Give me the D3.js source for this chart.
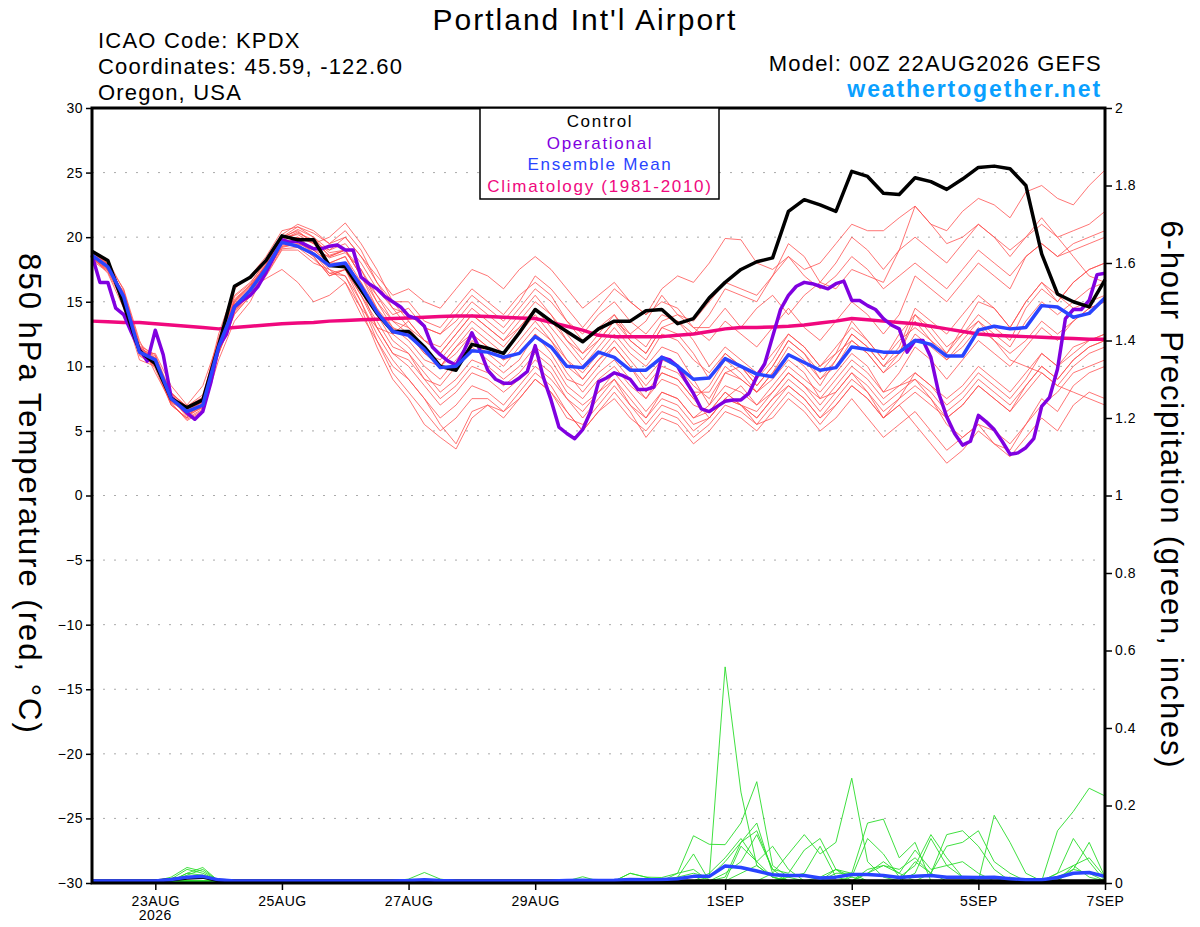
<!DOCTYPE html>
<html>
<head>
<meta charset="utf-8">
<script src="https://cdn.jsdelivr.net/npm/d3@7"></script>
<style>
  body { margin: 0; background: #fff; }
  svg { display: block; font-family: "Liberation Sans", Arial, Helvetica, sans-serif; }
</style>
</head>
<body>
<div id="chart"></div>
<script>
// 6-hourly steps from 00Z 22AUG2026 (65 points), operational is 3-hourly (129 points)
var control = [18.9,18.2,14.8,11.2,10.2,7.5,6.8,7.4,11.6,16.2,16.9,18.2,20.1,
  19.8,19.8,17.8,17.7,15.9,14.1,12.7,12.7,11.5,10.0,9.7,11.7,11.4,
  11.0,12.6,14.4,13.5,12.7,11.9,12.9,13.5,13.5,14.3,14.4,13.3,13.7,
  15.3,16.5,17.5,18.1,18.4,22.0,22.9,22.5,22.0,25.1,24.7,23.4,23.3,
  24.6,24.3,23.7,24.5,25.4,25.5,25.3,24.0,18.7,15.6,15.0,14.6,16.7];

var operational = [18.6,16.5,16.5,14.5,14.0,12.6,11.3,10.4,12.8,10.9,7.6,7.0,6.4,5.9,6.5,8.7,
  11.5,12.5,14.6,15.1,15.5,16.2,17.3,18.5,19.8,19.6,19.7,19.4,19.1,19.1,19.3,19.4,
  19.0,19.0,16.9,16.4,16.0,15.4,15.0,14.6,13.9,13.7,13.1,11.5,10.9,10.4,10.1,11.2,
  12.6,11.3,9.7,9.0,8.7,8.7,9.1,9.6,11.6,9.2,7.4,5.3,4.8,4.4,5.1,6.5,
  8.8,9.1,9.5,9.3,9.0,8.2,8.2,8.4,10.7,10.5,10.0,8.9,7.9,6.7,6.5,6.9,
  7.3,7.4,7.4,7.9,9.2,10.2,12.3,14.4,15.5,16.2,16.5,16.4,16.2,16.0,16.4,16.6,
  15.1,15.1,14.7,14.4,13.7,13.2,12.9,11.1,12.0,12.0,10.7,7.9,6.1,4.8,3.9,4.2,
  6.2,5.7,5.1,4.2,3.2,3.3,3.7,4.4,6.9,7.6,9.8,13.7,14.4,14.4,15.1,17.1,17.2];

var ensMean = [18.6,17.7,15.4,11.1,10.5,7.5,6.5,7.0,11.5,14.6,15.9,17.6,19.6,
  19.3,18.7,17.8,18.0,16.2,14.2,12.7,12.4,11.3,9.9,10.0,11.2,11.1,
  10.7,11.0,12.3,11.5,10.0,9.9,11.1,10.7,9.7,9.7,10.7,10.0,9.0,
  9.1,10.6,10.0,9.4,9.2,10.9,10.3,9.7,9.9,11.5,11.3,11.1,11.1,
  12.0,11.7,10.8,10.8,12.8,13.1,12.9,13.0,14.7,14.6,13.8,14.1,15.3];

var climo = [13.5,13.45,13.4,13.4,13.3,13.2,13.1,13.0,12.9,13.0,13.1,13.2,13.3,
  13.35,13.4,13.5,13.55,13.6,13.65,13.7,13.75,13.8,13.85,13.9,13.9,13.85,
  13.8,13.75,13.7,13.4,13.1,12.8,12.4,12.3,12.3,12.3,12.3,12.4,12.5,
  12.7,12.9,13.0,13.0,13.05,13.1,13.2,13.35,13.5,13.7,13.6,13.5,13.4,
  13.3,13.1,12.9,12.7,12.5,12.4,12.35,12.3,12.25,12.2,12.15,12.1,12.1];

var members = [
 [19.0,18.0,15.0,11.5,9.8,7.0,6.0,7.5,12.5,16.0,17.0,18.5,20.5,20.8,20.0,18.5,19.0,17.0,15.5,14.0,14.5,13.0,12.5,13.5,15.0,14.0,13.0,14.5,16.0,15.0,13.5,12.0,13.0,14.0,12.5,13.5,15.5,14.0,13.0,13.0,14.5,13.0,14.5,15.5,14.0,15.5,16.5,16.0,17.5,17.0,16.5,19.0,22.4,21.0,20.5,22.0,23.0,22.5,21.5,23.5,24.0,23.0,22.5,24.0,25.2],
 [18.5,17.2,14.5,10.5,10.0,8.0,6.8,7.2,11.0,14.0,15.5,17.0,19.0,19.0,18.0,17.5,16.5,14.0,12.0,10.0,9.0,7.5,6.0,7.0,8.5,8.0,7.0,8.5,10.0,9.0,7.5,6.5,8.0,9.0,7.0,6.0,8.0,7.5,6.0,6.5,8.0,7.0,5.5,6.0,7.5,6.5,5.0,6.0,7.5,6.0,4.5,5.5,6.5,5.0,3.5,4.5,5.5,4.0,3.0,4.5,6.0,5.0,7.0,8.0,7.5],
 [18.8,17.9,16.0,12.0,9.5,7.2,5.8,6.5,10.5,13.5,15.0,17.5,20.0,20.5,19.5,18.0,18.5,16.0,13.0,11.0,10.5,9.0,8.5,10.0,11.5,10.5,9.5,10.5,12.5,11.0,9.0,8.5,10.0,11.5,10.0,8.5,10.0,9.5,8.0,8.0,10.0,9.0,8.0,9.5,11.5,10.5,9.0,10.0,12.0,11.0,9.5,11.0,13.5,12.0,11.0,12.5,14.0,13.0,12.0,14.5,16.0,15.0,16.5,17.5,18.0],
 [18.4,17.5,15.6,11.0,11.0,8.5,7.0,8.5,12.0,15.5,16.5,18.0,19.5,20.0,19.5,19.0,20.0,18.5,17.0,15.5,16.0,15.0,14.5,16.0,17.5,17.0,16.0,17.5,18.5,17.5,16.0,14.5,15.5,16.5,15.0,14.0,15.0,14.5,13.0,12.0,13.5,12.5,11.5,13.0,14.5,13.0,12.0,13.5,15.0,14.0,12.5,14.0,17.0,16.0,15.0,16.5,18.0,17.0,16.0,18.5,19.5,18.5,19.0,19.5,20.0],
 [18.7,17.6,15.2,11.3,10.2,7.8,6.2,7.0,11.8,15.0,16.2,17.8,20.2,21.0,20.5,19.5,20.5,19.0,16.5,14.5,13.0,11.5,10.0,11.0,12.5,11.5,10.5,12.0,13.5,12.0,10.5,9.5,11.0,12.5,11.0,10.0,11.5,11.0,9.0,7.0,9.5,10.0,8.5,10.0,12.0,11.0,9.5,11.0,13.5,12.0,10.5,12.5,14.0,12.5,11.0,13.0,15.0,14.5,13.0,15.0,16.5,15.0,16.5,17.5,18.0],
 [18.3,17.4,15.8,11.8,10.6,7.3,6.4,6.8,11.2,14.2,15.6,17.2,19.3,19.5,18.5,17.0,17.5,15.0,12.5,10.5,9.0,7.5,5.5,4.0,6.5,7.0,6.5,7.5,9.0,8.0,6.0,5.5,7.0,8.5,7.0,5.5,7.0,6.5,5.0,6.0,7.5,8.5,7.0,8.0,9.5,8.5,7.0,8.5,10.0,9.0,7.5,8.5,9.5,8.5,7.0,8.0,9.5,8.5,7.5,9.0,11.0,10.0,11.5,12.0,12.5],
 [18.9,18.1,15.5,11.4,10.8,7.7,6.6,7.3,11.6,14.8,16.0,16.8,17.5,16.5,15.0,15.5,16.5,14.5,13.0,12.5,13.5,12.0,11.0,12.5,14.0,13.0,12.0,13.0,14.5,13.0,11.5,10.0,11.5,13.0,11.5,10.5,12.5,12.0,10.5,9.5,11.0,10.0,8.5,10.0,12.0,11.0,9.0,10.5,12.5,11.5,10.0,11.5,14.5,13.5,12.5,14.0,15.5,14.5,13.0,15.0,16.5,15.5,14.5,15.0,15.5],
 [18.6,17.8,15.3,11.2,10.4,7.4,6.7,7.6,12.2,15.4,16.4,18.2,20.0,20.2,19.5,20.0,21.1,19.5,17.5,15.0,13.5,12.0,11.5,13.0,14.5,13.5,12.5,14.0,15.5,14.0,12.5,11.0,12.5,14.0,12.0,11.0,13.0,12.5,11.0,9.0,11.0,10.0,9.0,10.5,12.5,11.5,10.0,11.5,13.0,12.0,10.5,12.0,13.0,12.0,10.5,12.0,13.5,12.5,11.5,13.5,15.0,14.0,15.0,16.0,16.5],
 [18.5,17.6,15.1,10.8,10.1,7.1,5.9,6.6,11.0,14.4,15.7,17.4,19.2,19.5,19.0,18.0,18.5,16.5,14.0,12.0,11.0,9.5,8.0,9.0,10.5,10.0,9.0,10.0,11.5,10.5,8.5,7.5,9.0,10.0,8.5,7.5,9.5,9.0,7.5,8.5,10.5,9.5,8.0,9.0,10.5,9.5,7.5,8.0,9.5,8.0,6.0,7.0,5.5,4.0,2.5,3.5,5.0,4.0,3.5,5.5,7.5,6.5,8.5,9.5,10.0],
 [18.9,18.2,15.9,11.6,10.3,7.6,6.3,7.1,11.4,14.6,15.8,17.6,19.8,20.0,19.0,18.0,18.0,16.5,14.5,13.0,12.5,11.0,10.5,12.0,13.5,12.5,11.5,13.0,14.5,13.5,12.0,10.5,12.0,13.5,12.0,11.0,13.0,13.5,12.5,14.0,16.0,15.5,15.0,17.0,19.5,18.5,16.5,18.0,20.0,19.0,17.5,19.0,20.0,19.0,18.0,19.5,21.0,20.0,18.5,20.0,21.5,20.0,18.5,17.0,16.5],
 [18.2,17.3,14.9,11.0,10.7,7.9,6.9,7.8,12.0,15.2,16.3,17.9,19.6,19.8,18.8,17.5,17.0,15.0,12.0,9.5,8.0,6.5,5.0,6.0,7.5,7.5,6.5,8.0,9.5,8.5,6.5,5.0,6.5,8.0,6.5,4.5,6.0,5.5,4.0,5.0,6.5,6.0,5.0,6.5,8.0,7.0,5.5,7.0,8.5,7.5,6.0,7.0,8.0,7.0,6.0,7.0,8.5,7.5,6.5,8.5,10.0,9.0,10.5,11.5,12.0],
 [18.6,17.7,15.7,11.5,10.6,7.5,6.1,6.9,11.3,14.5,15.8,17.5,19.5,19.8,19.0,18.5,19.0,17.5,15.5,13.5,12.5,11.0,10.0,11.5,13.0,12.0,11.0,12.5,14.0,12.5,10.5,9.0,10.5,12.0,10.5,9.0,10.5,10.0,8.5,7.5,9.5,9.0,8.0,9.5,11.0,10.0,8.5,10.5,12.5,11.5,10.0,11.0,14.0,13.0,11.5,12.5,13.5,12.0,10.5,10.0,9.5,8.5,8.0,7.5,7.0],
 [18.7,17.8,15.4,11.1,10.0,7.2,6.5,7.3,11.7,14.7,16.0,17.7,19.7,20.3,19.8,18.8,19.0,17.0,14.5,12.5,11.5,10.0,9.0,10.5,12.0,11.0,10.0,11.5,13.0,12.0,10.0,9.0,10.5,11.5,10.0,8.0,9.5,9.0,7.5,6.0,7.5,7.0,6.5,8.0,9.5,8.5,7.5,9.0,10.5,9.5,8.0,9.5,11.5,10.5,9.0,10.5,12.0,11.0,10.0,11.5,13.0,12.0,13.5,14.5,15.0],
 [18.4,17.5,15.2,11.2,10.5,7.6,6.6,7.2,11.6,14.9,16.1,17.9,19.9,20.6,20.0,19.0,19.5,18.0,16.0,14.5,14.0,13.0,12.5,14.0,15.5,14.5,13.5,15.0,17.0,16.0,14.5,13.0,14.5,16.0,15.0,14.0,16.0,17.0,16.5,18.0,19.9,19.8,18.0,17.5,18.5,17.0,16.0,17.0,18.5,17.5,16.0,17.0,18.0,17.0,16.0,17.5,19.0,18.0,17.0,18.5,19.5,18.5,19.5,20.0,20.5],
 [18.9,17.9,15.6,11.4,10.4,7.4,6.3,7.0,11.4,14.6,15.9,17.6,19.6,19.6,18.8,17.2,17.0,14.5,11.5,9.0,7.5,5.5,4.5,3.6,6.0,7.0,6.0,7.5,9.0,8.0,6.5,5.0,6.5,7.5,6.0,5.0,6.5,6.0,4.5,5.5,7.0,6.5,5.5,7.0,8.5,7.5,6.0,7.5,9.0,8.0,6.5,7.5,8.5,7.5,6.0,7.0,8.5,7.5,6.5,8.0,9.5,8.5,10.0,11.0,11.5],
 [18.5,17.6,15.3,11.0,10.6,7.8,6.8,7.4,11.9,15.1,16.3,17.8,19.4,19.7,19.2,18.4,18.8,17.5,15.0,13.0,12.0,10.5,10.0,11.5,12.5,11.5,10.5,11.0,12.5,11.5,9.5,8.0,9.5,10.5,9.0,7.5,9.0,8.5,7.0,6.5,8.0,7.0,6.0,7.5,8.5,7.5,6.0,7.0,8.5,7.5,6.0,7.5,9.5,8.5,7.5,8.5,10.0,9.0,8.0,9.5,11.0,10.0,11.0,12.0,12.5],
 [18.8,18.0,15.5,11.3,10.3,7.3,6.4,7.1,11.5,14.7,15.9,17.7,19.8,20.4,19.6,18.6,19.0,17.0,15.0,13.5,13.0,12.0,11.0,12.5,14.0,13.0,12.0,13.5,15.0,14.0,12.0,11.0,12.0,13.5,12.5,11.5,13.5,14.0,13.5,15.0,16.5,16.0,15.5,17.0,18.5,17.5,18.0,19.5,21.0,20.5,20.5,21.5,22.4,21.0,19.5,20.0,21.0,20.0,19.0,20.0,21.0,20.0,20.5,21.0,22.0],
 [18.6,17.7,15.6,11.2,10.2,7.6,6.2,6.8,11.3,14.3,15.6,17.3,19.3,19.4,18.5,17.0,17.5,15.5,13.5,11.5,11.0,9.0,7.5,8.5,10.0,9.5,8.5,9.5,11.0,10.0,8.0,7.0,8.0,9.5,8.0,6.5,8.0,7.5,6.0,7.0,8.5,8.0,7.0,8.5,10.0,9.0,8.0,9.5,11.0,10.0,8.0,8.5,9.0,7.5,5.5,4.5,5.5,5.0,4.0,5.5,7.0,8.0,9.5,10.0,10.5],
 [18.7,17.9,15.4,11.6,10.9,7.9,6.9,7.6,11.9,15.0,16.2,17.8,20.0,20.8,20.3,19.5,20.0,18.5,16.5,15.0,15.0,13.5,13.0,14.5,16.0,15.0,14.0,15.5,16.5,15.5,13.5,12.5,14.0,15.0,13.5,12.5,14.0,13.5,12.0,10.0,11.5,10.5,9.5,11.0,12.5,11.5,10.0,11.0,12.0,11.0,9.5,10.5,12.5,11.5,10.5,11.5,13.0,12.0,11.0,12.0,13.5,12.5,13.5,14.5,15.0],
 [18.4,17.4,15.0,10.9,10.1,7.0,6.0,6.7,11.0,14.1,15.4,17.1,19.1,19.2,18.3,17.2,17.5,15.5,13.0,11.0,10.0,8.5,7.0,8.0,9.5,9.0,8.0,9.0,10.5,9.5,7.5,6.0,7.5,9.0,7.5,6.0,7.5,7.0,5.5,6.0,7.5,7.0,6.0,7.5,9.0,8.0,6.5,8.0,9.5,8.5,7.0,8.0,9.0,8.0,6.5,7.5,9.0,8.0,7.0,8.5,10.0,9.0,10.5,11.5,12.0]
];

// 6-hour precipitation, inches
var precipMembers = [
 [0,0,0,0,0,0.005,0.03,0.02,0,0,0,0,0, 0,0,0,0,0,0,0,0,0,0,0,0,0, 0,0,0,0,0,0,0,0,0,0,0,0.01,0.02, 0.01,0.554,0.23,0.04,0.01,0,0,0,0.03,0.01,0,0,0, 0,0,0,0,0,0,0,0,0,0.02,0.04,0.01,0],
 [0,0,0,0,0,0.01,0.035,0.025,0,0,0,0,0, 0,0,0,0,0,0,0,0,0,0,0,0,0, 0,0,0,0,0,0,0,0,0,0,0,0.02,0.117, 0.095,0.094,0.15,0.257,0.04,0.01,0,0,0,0,0,0,0, 0.05,0.02,0,0,0,0,0,0,0,0,0,0,0],
 [0,0,0,0,0,0,0.015,0.03,0,0,0,0,0, 0,0,0,0,0,0,0,0.005,0.022,0.005,0,0,0, 0,0,0,0,0,0,0,0,0,0,0,0,0, 0,0,0,0,0.02,0.07,0.12,0.07,0.1,0.266,0.05,0.01,0, 0,0,0,0,0,0,0,0,0,0,0,0,0],
 [0,0,0,0,0,0,0.02,0.015,0,0,0,0,0, 0,0,0,0,0,0,0,0,0,0,0,0,0, 0,0,0,0,0,0.011,0,0,0.02,0.01,0.009,0.02,0.03, 0,0,0,0,0,0,0,0,0.02,0.02,0.15,0.16,0.06, 0.1,0,0,0,0,0,0,0,0,0,0,0,0],
 [0,0,0,0,0,0,0,0,0,0,0,0,0, 0,0,0,0,0,0,0,0,0,0,0,0,0, 0,0,0,0,0,0,0,0,0,0,0,0,0, 0,0,0,0,0,0,0,0,0,0.01,0.11,0.07,0.01, 0.04,0.12,0.06,0.01,0,0,0,0,0,0,0,0,0],
 [0,0,0,0,0,0,0,0,0,0,0,0,0, 0,0,0,0,0,0,0,0,0,0,0,0,0, 0,0,0,0,0,0,0,0,0,0,0,0,0, 0,0,0.02,0.04,0.01,0,0,0.01,0.03,0.02,0,0,0, 0,0,0,0,0,0.17,0.1,0.02,0,0,0,0,0],
 [0,0,0,0,0,0,0,0,0,0,0,0,0, 0,0,0,0,0,0,0,0,0,0,0,0,0, 0,0,0,0,0,0,0,0,0,0,0,0,0, 0,0,0,0,0,0,0,0,0,0,0,0,0, 0,0,0,0,0,0,0,0,0,0.13,0.18,0.24,0.22],
 [0,0,0,0,0,0,0,0,0,0,0,0,0, 0,0,0,0,0,0,0,0,0,0,0,0,0, 0,0,0,0,0,0,0,0,0,0,0,0,0, 0,0,0.09,0.05,0.09,0.03,0,0,0,0,0,0,0, 0,0,0,0,0,0,0,0,0,0.02,0.11,0.05,0],
 [0,0,0,0,0,0,0,0,0,0,0,0,0, 0,0,0,0,0,0,0,0,0,0,0,0,0, 0,0,0,0,0,0,0,0,0,0,0,0,0, 0,0.02,0.05,0.12,0.03,0,0,0,0,0,0.02,0.05,0.02, 0,0,0,0,0,0,0,0,0,0,0.03,0.1,0.01],
 [0,0,0,0,0,0,0,0,0,0,0,0,0, 0,0,0,0,0,0,0,0,0,0,0,0,0, 0,0,0,0,0,0,0,0,0,0,0,0,0, 0,0,0,0,0,0.01,0.02,0.09,0.01,0,0,0,0, 0,0.02,0.12,0.13,0.09,0.03,0,0,0,0,0,0,0],
 [0,0,0,0,0,0,0.02,0.035,0,0,0,0,0, 0,0,0,0,0,0,0,0,0,0,0,0,0, 0,0,0,0,0,0,0,0,0,0,0,0,0, 0.01,0.05,0.1,0.15,0.02,0,0,0,0,0,0,0,0, 0.02,0.11,0.04,0.01,0,0,0.01,0,0,0.01,0.03,0.02,0],
 [0,0,0,0,0,0,0,0,0,0,0,0,0, 0,0,0,0,0,0,0,0,0,0,0,0,0, 0,0,0,0,0,0,0,0,0.02,0.01,0,0.01,0.07, 0,0.01,0.1,0.13,0.03,0.02,0.08,0.11,0.03,0,0.03,0.04,0.02, 0.08,0.03,0.04,0.05,0.02,0,0,0,0,0,0.04,0.06,0.01],
 [0,0,0,0,0,0,0,0,0,0,0,0,0, 0,0,0,0,0,0,0,0,0,0,0,0,0, 0,0,0,0,0,0,0,0,0,0,0,0,0, 0,0,0,0,0,0,0,0,0,0,0.02,0.04,0.03, 0.06,0.02,0.09,0.1,0.13,0.05,0.02,0,0,0,0,0,0],
 [0,0,0,0,0,0,0,0,0,0,0,0,0, 0,0,0,0,0,0,0,0,0,0,0,0,0, 0,0,0,0,0,0,0,0,0,0,0,0,0, 0.02,0.06,0.11,0.05,0.01,0,0,0,0,0,0,0,0, 0,0,0,0,0,0,0,0,0,0,0,0,0]
];

var precipMean = [0,0,0,0,0,0.004,0.01,0.012,0.003,0,0,0,0,
  0,0,0,0,0,0,0,0.001,0.003,0.001,0,0,0,
  0,0,0,0,0.001,0.002,0.001,0.002,0.004,0.003,0.004,0.006,0.012,
  0.012,0.039,0.035,0.026,0.016,0.014,0.014,0.008,0.01,0.017,0.017,0.014,0.009,
  0.012,0.014,0.01,0.01,0.009,0.01,0.006,0.003,0.003,0.009,0.02,0.022,0.012];

var precipControl = [0,0,0,0,0,0.003,0.008,0.01,0.001,0,0,0,0,
  0,0,0,0,0,0,0,0,0,0,0,0,0, 0,0,0,0,0,0,0,0,0,0,0,0,0,
  0,0,0,0,0,0,0,0,0,0,0,0,0, 0,0,0,0,0,0,0,0,0,0,0,0,0];

var tempTicks = [-30,-25,-20,-15,-10,-5,0,5,10,15,20,25,30];
var gridTemps = [-25,-20,-15,-10,-5,0,5,10,15,20,25];
var precipTicks = [0,0.2,0.4,0.6,0.8,1,1.2,1.4,1.6,1.8,2];
var dateTicks = ["2026-08-23","2026-08-25","2026-08-27","2026-08-29","2026-09-01","2026-09-03","2026-09-05","2026-09-07"];
var dateLabels = ["23AUG","25AUG","27AUG","29AUG","1SEP","3SEP","5SEP","7SEP"];

var legendItems = [
  {label: "Control", color: "#000000"},
  {label: "Operational", color: "#8000e0"},
  {label: "Ensemble Mean", color: "#2a44ff"},
  {label: "Climatology (1981-2010)", color: "#f0087e"}
];

var width = 1200, height = 927;
var plotL = 92, plotR = 1105, plotT = 108, plotB = 883;
var start = Date.UTC(2026, 7, 22, 0);
var HOUR = 3600 * 1000;

var svg = d3.select("#chart").append("svg").attr("width", width).attr("height", height);

var x = d3.scaleUtc().domain([new Date(start), new Date(Date.UTC(2026, 8, 7, 0))]).range([plotL, plotR]);
var yT = d3.scaleLinear().domain([-30, 30]).range([plotB, plotT]);
var yP = d3.scaleLinear().domain([0, 2]).range([plotB - 2, plotT]);

function t6(i) { return new Date(start + i * 6 * HOUR); }
function t3(i) { return new Date(start + i * 3 * HOUR); }

var lineT6 = d3.line().x(function(d, i) { return x(t6(i)); }).y(function(d) { return yT(d); });
var lineT3 = d3.line().x(function(d, i) { return x(t3(i)); }).y(function(d) { return yT(d); });
var lineP6 = d3.line().x(function(d, i) { return x(t6(i)); }).y(function(d) { return yP(d); });

// dotted grid
svg.append("g").selectAll("line").data(gridTemps).enter().append("line")
  .attr("x1", plotL).attr("x2", plotR)
  .attr("y1", function(d) { return yT(d); }).attr("y2", function(d) { return yT(d); })
  .attr("stroke", "#aaaaaa").attr("stroke-width", 1).attr("stroke-dasharray", "2,9");

var plot = svg.append("g").attr("fill", "none").attr("stroke-linejoin", "round");

plot.selectAll(".member").data(members).enter().append("path")
  .attr("class", "member").attr("d", lineT6)
  .attr("stroke", "#ff4a4a").attr("stroke-opacity", 0.85).attr("stroke-width", 0.9);

plot.selectAll(".pmember").data(precipMembers).enter().append("path")
  .attr("class", "pmember").attr("d", lineP6)
  .attr("stroke", "#2add2a").attr("stroke-width", 0.9);

plot.append("path").datum(precipControl).attr("d", lineP6).attr("stroke", "#000").attr("stroke-width", 3.5);
plot.append("path").datum(precipMean).attr("d", lineP6).attr("stroke", "#2a44ff").attr("stroke-width", 3.5);

plot.append("path").datum(climo).attr("d", lineT6).attr("stroke", "#f0087e").attr("stroke-width", 3.5);
plot.append("path").datum(operational).attr("d", lineT3).attr("stroke", "#8000e0").attr("stroke-width", 3.5);
plot.append("path").datum(control).attr("d", lineT6).attr("stroke", "#000").attr("stroke-width", 3.5);
plot.append("path").datum(ensMean).attr("d", lineT6).attr("stroke", "#2a44ff").attr("stroke-width", 3.5);

// axes
var axL = svg.append("g").attr("transform", "translate(" + plotL + ",0)")
  .call(d3.axisLeft(yT).tickValues(tempTicks).tickSize(6).tickPadding(3).tickFormat(d3.format("d")));
var axR = svg.append("g").attr("transform", "translate(" + plotR + ",0)")
  .call(d3.axisRight(d3.scaleLinear().domain([0, 2]).range([plotB, plotT])).tickValues(precipTicks).tickSize(7).tickPadding(3)
    .tickFormat(function(d) { return d3.format("~g")(d); }));
var axB = svg.append("g").attr("transform", "translate(0," + plotB + ")")
  .call(d3.axisBottom(x).tickValues(dateTicks.map(function(s) { return new Date(s + "T00:00:00Z"); }))
    .tickSize(7).tickPadding(3).tickFormat(function(d, i) { return dateLabels[i]; }));

[axL, axR, axB].forEach(function(a) {
  a.select(".domain").remove();
  a.selectAll(".tick line").attr("stroke", "#000").attr("stroke-width", 1.5);
  a.selectAll(".tick text").attr("fill", "#000").style("font-size", "14px").style("letter-spacing", "0.5px")
    .style("font-family", "'Liberation Sans', Arial, sans-serif");
});
axB.selectAll(".tick text").attr("dy", "0.9em");

svg.append("text").attr("x", x(new Date(dateTicks[0] + "T00:00:00Z"))).attr("y", 920)
  .attr("text-anchor", "middle").style("font-size", "14px").style("letter-spacing", "0.5px").text("2026");

// frame
svg.append("rect").attr("x", plotL).attr("y", plotT).attr("width", plotR - plotL).attr("height", plotB - plotT)
  .attr("fill", "none").attr("stroke", "#000").attr("stroke-width", 3);

// legend
var lg = svg.append("g");
lg.append("rect").attr("x", 480).attr("y", plotT).attr("width", 239).attr("height", 91)
  .attr("fill", "#fff").attr("stroke", "#000").attr("stroke-width", 1.5);
lg.selectAll("text").data(legendItems).enter().append("text")
  .attr("x", 600).attr("y", function(d, i) { return 127 + i * 21.7; })
  .attr("text-anchor", "middle").style("font-size", "17px").style("letter-spacing", "1.7px")
  .attr("fill", function(d) { return d.color; }).text(function(d) { return d.label; });

// titles
svg.append("text").attr("x", 585).attr("y", 30).attr("text-anchor", "middle")
  .style("font-size", "30px").style("letter-spacing", "2px").text("Portland Int'l Airport");
var info = ["ICAO Code: KPDX", "Coordinates: 45.59, -122.60", "Oregon, USA"];
svg.selectAll(".info").data(info).enter().append("text").attr("class", "info")
  .attr("x", 98).attr("y", function(d, i) { return 48 + i * 26; })
  .style("font-size", "22px").style("letter-spacing", "1.2px").text(function(d) { return d; });
svg.append("text").attr("x", 1102).attr("y", 71).attr("text-anchor", "end")
  .style("font-size", "22px").style("letter-spacing", "1.2px").text("Model: 00Z 22AUG2026 GEFS");
svg.append("text").attr("x", 1102).attr("y", 97).attr("text-anchor", "end")
  .style("font-size", "23px").style("font-weight", "bold").style("letter-spacing", "1.9px")
  .attr("fill", "#0aa0ff").text("weathertogether.net");

svg.append("text").attr("transform", "translate(19,494) rotate(90)").attr("text-anchor", "middle")
  .style("font-size", "31px").style("letter-spacing", "2px").text("850 hPa Temperature (red, \u00B0C)");
svg.append("text").attr("transform", "translate(1161,495) rotate(90)").attr("text-anchor", "middle")
  .style("font-size", "31px").style("letter-spacing", "1.8px").text("6-hour Precipitation (green, inches)");
</script>
</body>
</html>
